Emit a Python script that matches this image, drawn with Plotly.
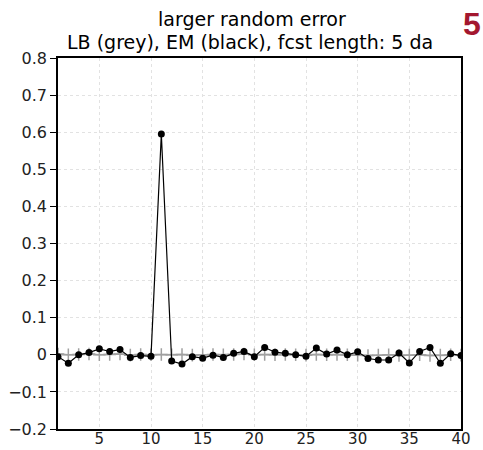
import plotly.graph_objects as go

days = list(range(1, 41))
em_black = [-0.005, -0.023, 0.0, 0.006, 0.016, 0.009, 0.014, -0.007, -0.002, -0.004,
            0.595, -0.017, -0.025, -0.005, -0.009, -0.001, -0.007, 0.004, 0.009, -0.005,
            0.020, 0.007, 0.004, 0.0, -0.004, 0.018, 0.002, 0.013, 0.0, 0.008,
            -0.010, -0.014, -0.014, 0.005, -0.022, 0.009, 0.020, -0.023, 0.003, -0.002]
lb_grey = [0.002, 0.0, 0.001, 0.002, 0.0, 0.001, 0.002, -0.001, 0.001, 0.0,
           0.001, 0.0, 0.001, -0.001, 0.0, 0.001, 0.0, 0.001, 0.002, 0.0,
           0.001, 0.0, 0.001, 0.0, -0.001, 0.001, 0.0, 0.001, 0.0, -0.001,
           -0.002, -0.001, 0.0, -0.002, -0.001, 0.0, -0.002, -0.001, 0.0, -0.001]
x_ticks = [5, 10, 15, 20, 25, 30, 35, 40]
y_ticks = [-0.2, -0.1, 0, 0.1, 0.2, 0.3, 0.4, 0.5, 0.6, 0.7, 0.8]
y_labels = ["\u22120.2", "\u22120.1", "0", "0.1", "0.2", "0.3", "0.4", "0.5", "0.6", "0.7", "0.8"]

fig = go.Figure()
fig.add_trace(go.Scatter(x=days, y=lb_grey, mode="lines+markers",
                         line=dict(color="#a0a0a0", width=1.5),
                         marker=dict(symbol="cross-thin", size=9, line=dict(color="#a0a0a0", width=1.5))))
fig.add_trace(go.Scatter(x=days, y=em_black, mode="lines+markers",
                         line=dict(color="black", width=1.2),
                         marker=dict(symbol="circle", size=7, color="black")))

font = "DejaVu Sans, sans-serif"
L, R, T, B = 58, 22, 58, 21
fig.update_layout(
    width=483, height=450,
    margin=dict(l=L, r=R, t=T, b=B, autoexpand=False),
    paper_bgcolor="white", plot_bgcolor="white",
    showlegend=False,
    font=dict(family=font, size=16, color="black"),
    xaxis=dict(range=[1, 40], tickvals=x_ticks, ticks="", automargin=False,
               ticklabelstandoff=-5,
               showline=True, linecolor="black", linewidth=1.5, mirror=True,
               showgrid=True, gridcolor="#e2e2e2", griddash="dot", gridwidth=1,
               zeroline=False, tickfont=dict(size=15, color="#222")),
    yaxis=dict(range=[-0.2, 0.8], tickvals=y_ticks, ticktext=y_labels, ticks="outside", ticklen=6,
               tickcolor="black", automargin=False,
               showline=True, linecolor="black", linewidth=1.5, mirror=True,
               showgrid=True, gridcolor="#e2e2e2", griddash="dot", gridwidth=1,
               zeroline=False, tickfont=dict(size=16, color="#222")),
)
plot_h = 450 - T - B
plot_w = 483 - L - R
def py(pix):
    return (450 - B - pix) / plot_h
def px(pix):
    return (pix - L) / plot_w
fig.add_annotation(text="larger random error", x=px(252), y=py(19.5), xref="paper", yref="paper",
                   showarrow=False, font=dict(size=19, family=font), xanchor="center", yanchor="middle")
fig.add_annotation(text="LB (grey), EM (black), fcst length: 5 da", x=px(250), y=py(42), xref="paper", yref="paper",
                   showarrow=False, font=dict(size=19, family=font), xanchor="center", yanchor="middle")
fig.add_annotation(text="<b>5</b>", x=px(472), y=py(24), xref="paper", yref="paper",
                   showarrow=False, font=dict(size=32, family="Liberation Sans, Arial, sans-serif", color="#a3172f"),
                   xanchor="center", yanchor="middle")

fig.write_html("out.html")
